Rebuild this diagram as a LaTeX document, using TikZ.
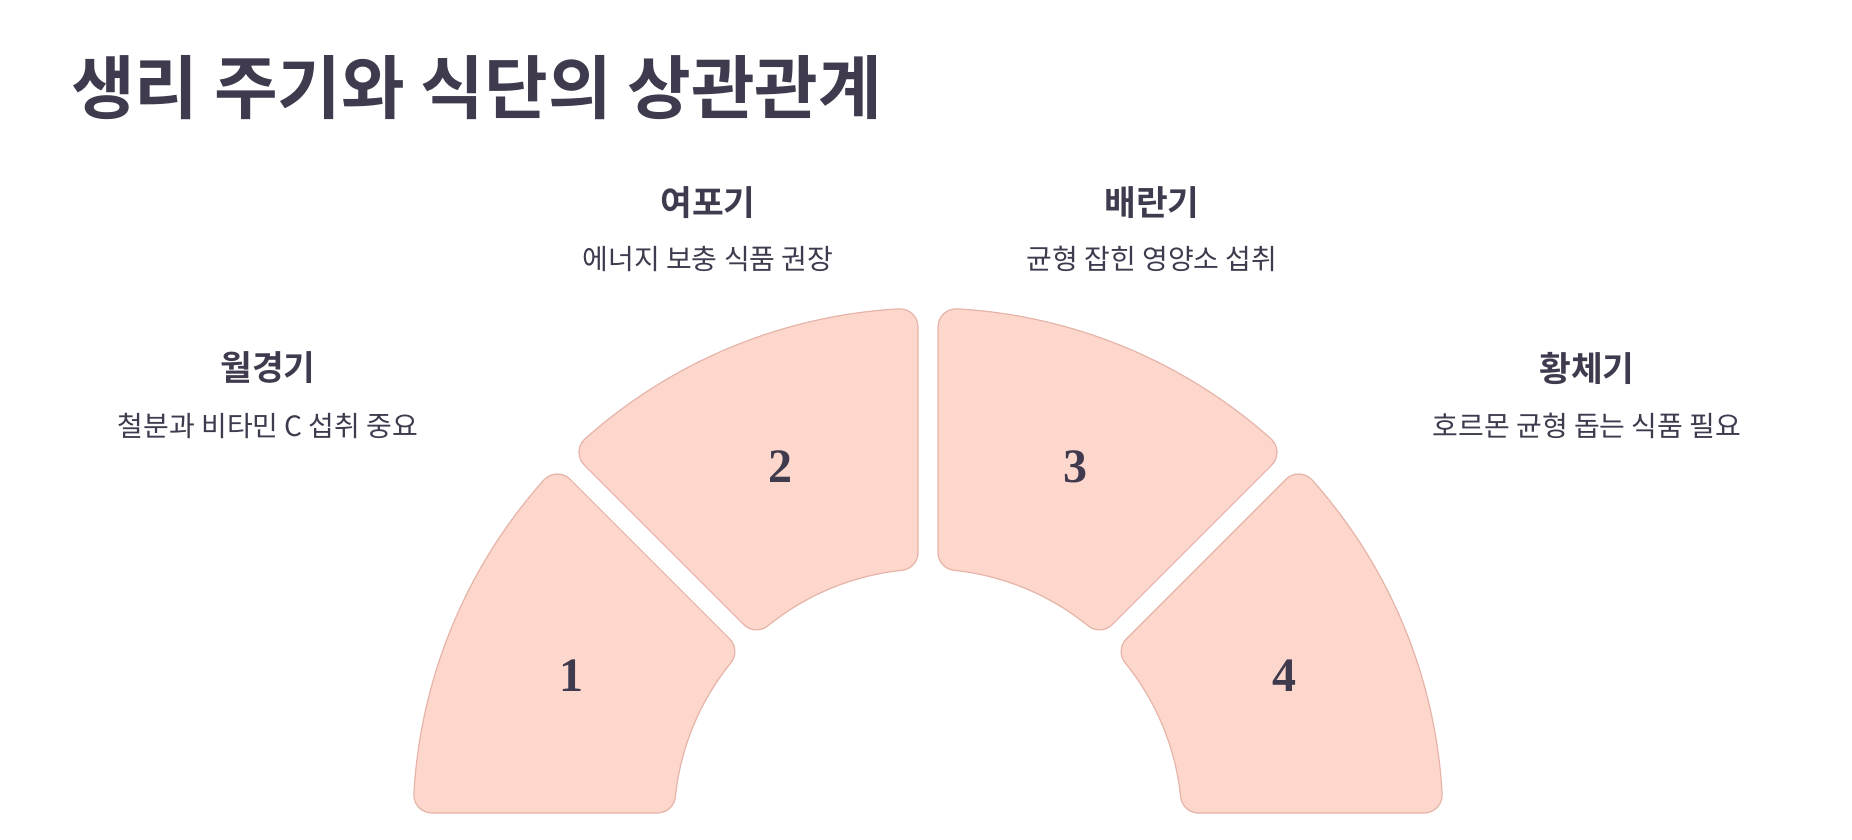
\documentclass[tikz,border=0pt]{standalone}
\usepackage{fontspec}
\newfontfamily\kr{Noto Sans CJK KR}[BoldFont={Noto Sans CJK KR Bold}]
\newfontfamily\numfont{Liberation Serif}
\definecolor{ink}{HTML}{3F3A4D}
\definecolor{peach}{HTML}{FDD7CB}
\definecolor{peachline}{HTML}{E6B4A8}
\tikzset{
  sectorstyle/.style={fill=peach, draw=peachline, line width=1.2pt},
  titletext/.style={text=ink, font=\kr\bfseries\fontsize{69.2pt}{80pt}\selectfont, inner sep=0pt, anchor=west},
  phasetext/.style={text=ink, font=\kr\bfseries\fontsize{34.5pt}{40pt}\selectfont, inner sep=0pt},
  desctext/.style={text=ink, font=\kr\fontsize{28pt}{32pt}\selectfont, inner sep=0pt},
  numtext/.style={text=ink, font=\numfont\bfseries\fontsize{48pt}{56pt}\selectfont, inner sep=0pt}
}
% ring parameters in units of 100px
\def\RO{5.15}
\def\RI{2.54}
\def\dd{0.10}
\def\rr{0.18}
\newcommand{\ringsector}[2]{%
  \pgfmathsetmacro{\phiO}{asin((\dd+\rr)/(\RO-\rr))}%
  \pgfmathsetmacro{\phiI}{asin((\dd+\rr)/(\RI+\rr))}%
  \pgfmathsetmacro{\Lo}{sqrt((\RO-\rr)^2-(\dd+\rr)^2)}%
  \pgfmathsetmacro{\Li}{sqrt((\RI+\rr)^2-(\dd+\rr)^2)}%
  \pgfmathsetmacro{\dLo}{atan(\dd/\Lo)}%
  \pgfmathsetmacro{\rLo}{sqrt(\Lo^2+\dd^2)}%
  \pgfmathsetmacro{\dLi}{atan(\dd/\Li)}%
  \pgfmathsetmacro{\rLi}{sqrt(\Li^2+\dd^2)}%
  \draw[sectorstyle] ({#1+\dLi}:\rLi) -- ({#1+\dLo}:\rLo)
    arc[start angle={#1-90}, end angle={#1+\phiO}, radius=\rr]
    arc[start angle={#1+\phiO}, end angle={#2-\phiO}, radius=\RO]
    arc[start angle={#2-\phiO}, end angle={#2+90}, radius=\rr]
    -- ({#2-\dLi}:\rLi)
    arc[start angle={#2+90}, end angle={#2+180-\phiI}, radius=\rr]
    arc[start angle={#2-\phiI}, end angle={#1+\phiI}, radius=\RI]
    arc[start angle={#1+180+\phiI}, end angle={#1+270}, radius=\rr]
    -- cycle;
}
\begin{document}
\begin{tikzpicture}[x=1pt, y=1pt]
\useasboundingbox[fill=white] (0,0) rectangle (1852,-840);
\node[titletext] (title) at (71,-88) {생리 주기와 식단의 상관관계};

\begin{scope}[shift={(928pt,-823pt)}, x=100pt, y=100pt]
  \ringsector{135}{180}
  \ringsector{90}{135}
  \ringsector{45}{90}
  \ringsector{0}{45}
  \node[numtext] (n1) at (157.5:3.86) {1};
  \node[numtext] (n2) at (112.5:3.86) {2};
  \node[numtext] (n3) at (67.5:3.86) {3};
  \node[numtext] (n4) at (22.5:3.86) {4};
\end{scope}

\node[phasetext] (p1) at (268,-368) {월경기};
\node[desctext] (d1) at (268,-426) {철분과 비타민 C 섭취 중요};
\node[phasetext] (p2) at (708,-203) {여포기};
\node[desctext] (d2) at (708,-259) {에너지 보충 식품 권장};
\node[phasetext] (p3) at (1152,-203) {배란기};
\node[desctext] (d3) at (1152,-259) {균형 잡힌 영양소 섭취};
\node[phasetext] (p4) at (1587,-368) {황체기};
\node[desctext] (d4) at (1587,-426) {호르몬 균형 돕는 식품 필요};
\end{tikzpicture}
\end{document}
